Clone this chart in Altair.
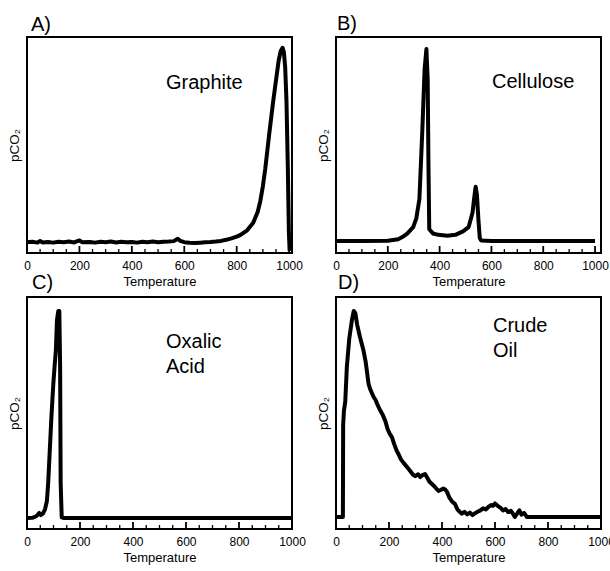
import altair as alt
import pandas as pd

FONT = "Liberation Sans"

# ---------------- data ----------------
graphite_t = [0, 20, 40, 50, 60, 80, 100, 120, 140, 160, 180, 200, 210, 240, 260, 280,
              300, 320, 340, 360, 380, 400, 420, 440, 460, 480, 500, 520, 540, 560, 575,
              585, 600, 620, 640, 660, 680, 700, 720, 740, 760, 780, 800, 813, 840, 863,
              880, 890, 900, 909, 924, 939, 950, 960, 968, 975, 980, 985, 990, 995, 999, 1002]
graphite_v = [5.0, 5.2, 4.8, 5.6, 4.9, 5.1, 4.8, 5.2, 5.0, 5.3, 4.9, 5.8, 5.0, 5.1, 4.8, 5.2,
              5.0, 5.3, 4.9, 5.2, 5.0, 5.1, 4.8, 5.2, 5.0, 5.3, 5.0, 5.2, 5.3, 5.5, 6.6,
              5.6, 5.0, 4.7, 4.6, 4.8, 5.0, 5.1, 5.3, 5.6, 6.1, 6.8, 7.6, 8.3, 10.5, 14.0,
              19.0, 24.0, 31.0, 39.0, 55.0, 70.0, 80.0, 89.0, 93.5, 95.0, 93.0, 86.0, 70.0, 40.0, 10.0, 1.0]

cellulose_t = [0, 100, 200, 240, 256, 275, 298, 310, 322, 333, 342, 349, 354, 357, 360,
               375, 395, 430, 461, 490, 512, 527, 535, 539, 544, 550, 555, 560, 600, 700, 800, 900, 1000]
cellulose_v = [5.6, 5.6, 5.7, 6.4, 7.4, 9.0, 12.0, 16.0, 25.0, 56.0, 85.0, 94.4, 80.0, 40.0, 11.0,
               9.0, 8.4, 8.0, 8.4, 10.0, 12.0, 18.6, 27.0, 30.7, 27.0, 15.0, 7.0, 5.8, 5.6, 5.6, 5.6, 5.6, 5.6]

oxalic_t = [0, 20, 35, 46, 52, 60, 68, 75, 80, 86, 92, 99, 104, 109, 113, 118, 122, 125, 127, 131,
            140, 200, 400, 600, 800, 1000]
oxalic_v = [4.7, 4.8, 5.5, 6.9, 6.0, 6.6, 8.5, 12.0, 20.0, 34.0, 48.0, 62.0, 70.0, 77.0, 90.0, 94.0,
            94.0, 70.0, 20.0, 5.0, 4.7, 4.7, 4.7, 4.7, 4.7, 4.7]

crude_t = [0, 20, 26, 27, 30, 35, 41, 50, 60, 67, 73, 80, 90, 104, 112, 123, 130, 142, 150, 155,
           165, 175, 186, 195, 203, 211, 220, 228, 237, 245, 255, 268, 280, 290, 299, 310,
           318, 326, 336, 345, 352, 362, 372, 380, 387, 395, 405, 412, 419, 428, 437, 449,
           458, 468, 475, 485, 495, 505, 515, 525, 535, 545, 555, 565, 575, 585, 592, 600,
           610, 620, 630, 640, 650, 660, 668, 675, 685, 692, 700, 710, 720, 800, 900, 1000]
crude_v = [5.2, 5.2, 5.2, 45.0, 51.0, 55.0, 70.0, 82.0, 90.0, 94.0, 93.0, 88.0, 83.0, 76.8, 72.0,
           62.5, 60.0, 56.9, 55.5, 54.0, 51.5, 49.5, 46.6, 43.0, 41.0, 39.6, 36.5, 34.0, 32.0,
           30.0, 28.5, 26.7, 25.0, 23.5, 22.8, 23.6, 22.4, 23.2, 23.7, 22.0, 20.5, 19.4, 18.3,
           17.2, 16.4, 16.8, 17.4, 17.0, 16.0, 13.5, 12.0, 10.8, 8.5, 7.3, 6.6, 7.4, 6.3, 7.1,
           6.0, 6.8, 7.5, 8.0, 8.9, 8.4, 9.5, 10.3, 10.0, 11.0, 10.0, 9.2, 8.0, 8.6, 7.3, 7.8,
           6.6, 5.2, 6.9, 8.0, 6.2, 6.9, 5.2, 5.2, 5.2, 5.2]

major_ticks = [0, 200, 400, 600, 800, 1000]
minor_ticks = [50, 100, 150, 250, 300, 350, 450, 500, 550, 650, 700, 750, 850, 900, 950]

W = 265


def strip(x1, x2, y1, y2):
    # a thin filled black band used as one side of the plot frame
    return alt.Chart(pd.DataFrame({"k": [0]})).mark_rect(color="black", opacity=1).encode(
        x=alt.value(x1), x2=alt.value(x2), y=alt.value(y1), y2=alt.value(y2))


def panel(temps, vals, letter, label_lines, xmax, height, label_x, label_y,
          letter_x, letter_y):
    df = pd.DataFrame({"t": temps, "v": vals})
    xscale = alt.Scale(domain=[0, xmax], nice=False, zero=False)
    yscale = alt.Scale(domain=[0, 100], nice=False)
    x = alt.X("t:Q", scale=xscale,
              axis=alt.Axis(values=major_ticks, format="d", ticks=False, domain=False,
                            grid=False, title="Temperature", labelPadding=7, titlePadding=4,
                            labelFontSize=12, titleFontSize=13, titleFontWeight="normal",
                            labelFlush=False, labelColor="black", titleColor="black",
                            labelFont=FONT, titleFont=FONT))
    y = alt.Y("v:Q", scale=yscale,
              axis=alt.Axis(labels=False, ticks=False, domain=False, grid=False,
                            title="pCO₂", titlePadding=6, titleFontSize=13.5,
                            titleFontWeight="normal", titleColor="black", titleFont=FONT))
    line = alt.Chart(df).mark_line(color="black", strokeWidth=4, strokeJoin="round",
                                   strokeCap="butt").encode(x=x, y=y)
    maj = alt.Chart(pd.DataFrame({"t": major_ticks})).mark_rule(
        color="black", strokeWidth=1.8).encode(
        x=alt.X("t:Q", scale=xscale), y=alt.value(height), y2=alt.value(height - 7))
    mnr = alt.Chart(pd.DataFrame({"t": minor_ticks})).mark_rule(
        color="black", strokeWidth=1.3).encode(
        x=alt.X("t:Q", scale=xscale), y=alt.value(height), y2=alt.value(height - 4))
    vert = alt.Chart(pd.DataFrame({"t": [0, xmax]})).mark_rule(
        color="black", strokeWidth=2, strokeCap="square").encode(
        x=alt.X("t:Q", scale=xscale), y=alt.value(0), y2=alt.value(height))
    frame = [strip(-1, W + 1, -1, 1), strip(-1, W + 1, height - 1, height + 1),
             strip(-1, 1, -1, height + 1), strip(W - 1, W + 1, -1, height + 1)]
    txt = alt.Chart(pd.DataFrame({"k": [0]})).mark_text(
        text=label_lines, align="left", baseline="alphabetic", fontSize=20,
        lineHeight=25, font=FONT, color="black").encode(
        x=alt.value(label_x), y=alt.value(label_y))
    let = alt.Chart(pd.DataFrame({"k": [0]})).mark_text(
        text=letter, align="left", baseline="alphabetic", fontSize=20,
        font=FONT, color="black").encode(
        x=alt.value(letter_x), y=alt.value(letter_y))
    return alt.layer(line, maj, mnr, vert, *frame, txt, let).properties(
        width=W, height=height)


a = panel(graphite_t, graphite_v, "A)", ["Graphite"], 1011, 216, 139, 52, 4, -6)
b = panel(cellulose_t, cellulose_v, "B)", ["Cellulose"], 1023, 216, 156, 51, 1, -7)
c = panel(oxalic_t, oxalic_v, "C)", ["Oxalic", "Acid"], 1000, 232, 139, 51, 5, -8)
d = panel(crude_t, crude_v, "D)", ["Crude", "Oil"], 1000, 232, 157, 35, 2, -8)

chart = alt.concat(a, b, c, d, columns=2, spacing=44).properties(
    bounds="flush",
    autosize=alt.AutoSizeParams(type="none"),
    padding={"left": 27, "top": 37, "right": 583, "bottom": 534},
).configure(background="white", font=FONT,
            view=alt.ViewConfig(stroke="black", strokeWidth=2))

chart.save("out.html", embed_options={"renderer": "svg", "actions": False})
